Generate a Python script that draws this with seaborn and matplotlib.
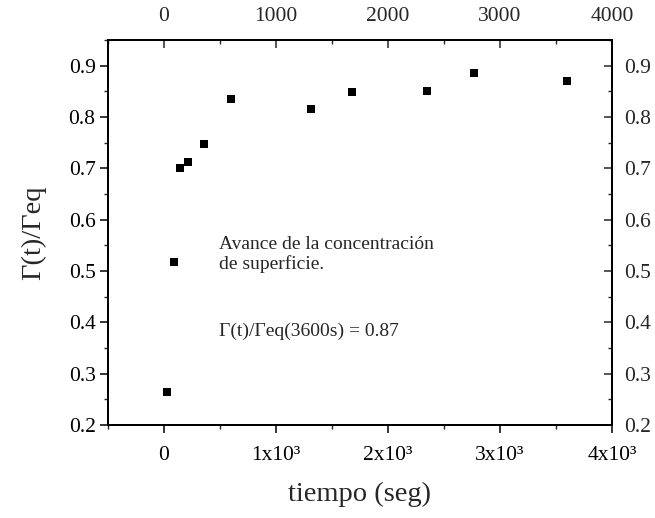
import matplotlib
matplotlib.use("Agg")
import matplotlib.pyplot as plt
from matplotlib.ticker import MultipleLocator, FixedLocator, FixedFormatter
import seaborn as sns
import pandas as pd

# Surface concentration progress over time
tiempo = [25, 92, 145, 211, 356, 600, 1314, 1677, 2346, 2768, 3600]
gamma_ratio = [0.265, 0.518, 0.700, 0.713, 0.747, 0.836, 0.815, 0.849, 0.851, 0.885, 0.87]

x_ticks = [0, 1000, 2000, 3000, 4000]
x_ticklabels = ["0", "1x10³", "2x10³", "3x10³", "4x10³"]
top_ticklabels = ["0", "1000", "2000", "3000", "4000"]
y_ticks = [0.2, 0.3, 0.4, 0.5, 0.6, 0.7, 0.8, 0.9]

sns.set_theme(style="ticks")
plt.rcParams["font.family"] = ["Liberation Serif", "DejaVu Serif"]

df = pd.DataFrame({"tiempo": tiempo, "ratio": gamma_ratio})

fig = plt.figure(figsize=(6.55, 5.18), dpi=100)
ax = fig.add_axes([108 / 655, 1 - 425 / 518, (612 - 108) / 655, (425 - 40) / 518])

sns.scatterplot(data=df, x="tiempo", y="ratio", marker="s", s=32, color="black",
                edgecolor="black", linewidth=0, ax=ax, legend=False)

ax.set_xlim(-500, 4000)
ax.set_ylim(0.2, 0.95)

ax.xaxis.set_major_locator(FixedLocator(x_ticks))
ax.xaxis.set_major_formatter(FixedFormatter(x_ticklabels))
ax.xaxis.set_minor_locator(MultipleLocator(500))
ax.yaxis.set_major_locator(FixedLocator(y_ticks))
ax.yaxis.set_minor_locator(MultipleLocator(0.05))
ax.tick_params(axis="x", which="major", direction="out", length=6, width=1.1,
               labelsize=15.5, colors="black", pad=9)
ax.tick_params(axis="y", which="major", direction="out", length=6, width=1.1,
               labelsize=15.5, colors="black", pad=3)
ax.tick_params(axis="both", which="minor", direction="out", length=3, width=1)

for sp in ax.spines.values():
    sp.set_visible(True)
    sp.set_linewidth(1.3)
    sp.set_color("black")

ax.set_xlabel("tiempo (seg)", fontsize=20.5, labelpad=12)
ax.set_ylabel("Γ(t)/Γeq", fontsize=20.5, labelpad=16)

# Secondary top axis
axt = ax.twiny()
axt.set_xlim(ax.get_xlim())
axt.xaxis.set_major_locator(FixedLocator(x_ticks))
axt.xaxis.set_major_formatter(FixedFormatter(top_ticklabels))
axt.xaxis.set_minor_locator(MultipleLocator(500))
axt.tick_params(axis="x", which="major", direction="in", length=6, width=1.1,
                labelsize=15.5, pad=10)
axt.tick_params(axis="x", which="minor", direction="in", length=3, width=1)

# Secondary right axis
axr = ax.twinx()
axr.set_ylim(ax.get_ylim())
axr.yaxis.set_major_locator(FixedLocator(y_ticks))
axr.yaxis.set_minor_locator(MultipleLocator(0.05))
axr.tick_params(axis="y", which="major", direction="in", length=6, width=1.1,
                labelsize=15.5, pad=9)
axr.tick_params(axis="y", which="minor", direction="in", length=3, width=1)
for a in (axt, axr):
    for sp in a.spines.values():
        sp.set_linewidth(1.3)
        sp.set_color("black")

ax.text(490, 0.568, "Avance de la concentración\nde superficie.", fontsize=14,
        va="top", ha="left", linespacing=1.15)
ax.text(490, 0.383, f"Γ(t)/Γeq({tiempo[-1]}s) = {gamma_ratio[-1]:.2f}", fontsize=14,
        va="center", ha="left")

fig.savefig("out.png", dpi=100)
